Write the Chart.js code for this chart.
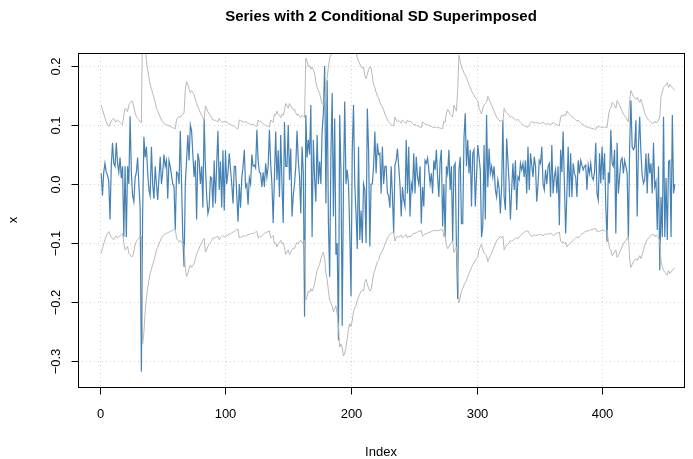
<!DOCTYPE html>
<html lang="en">
<head>
    <meta charset="UTF-8">
    <title>Series with 2 Conditional SD Superimposed</title>
    <script src="https://cdn.jsdelivr.net/npm/chart.js"></script>
    <style>
        body { margin: 0; background: #ffffff; }
        canvas { display: block; }
    </style>
</head>
<body>
    <canvas id="sdChart" width="693" height="459"></canvas>
    <script>
        // observed series x, index 1..458
        const seriesX = [
            0.018, -0.02, 0.02, 0.035, 0.02, 0.015, 0.005, -0.06, 0.03, 0.07,
            0.035, 0.03, 0.07, 0.035, 0.02, 0.045, 0.01, 0.03, -0.09, 0.03,
            -0.09, 0.03, 0.0, 0.115, 0.02, -0.02, -0.03, 0.01, 0.02, 0.045,
            0.0, -0.04, -0.318, -0.05, 0.08, 0.045, 0.063, 0.02, -0.01, -0.02,
            0.063, 0.0, -0.025, 0.03, 0.0, -0.027, 0.01, 0.046, 0.0, 0.02,
            0.05, 0.03, 0.04, -0.025, 0.04, 0.03, 0.015, 0.0, -0.005, -0.078,
            0.02, 0.018, 0.0, 0.09, 0.0, -0.09, -0.14, 0.0, 0.04, 0.083,
            0.04, 0.1, 0.09, 0.05, 0.012, 0.04, -0.06, 0.052, 0.04, 0.0,
            0.03, -0.04, 0.11, 0.03, -0.02, -0.05, -0.04, 0.012, 0.01, -0.04,
            0.04, -0.033, 0.035, 0.09, -0.01, 0.038, -0.04, 0.057, -0.045, 0.057,
            0.0, 0.02, 0.052, 0.025, 0.0, -0.033, 0.03, 0.03, -0.02, -0.064,
            0.0, -0.04, 0.01, 0.03, 0.058, -0.005, 0.0, -0.035, 0.01, 0.0,
            0.05, 0.03, 0.032, 0.027, 0.092, 0.04, 0.02, 0.018, -0.005, 0.02,
            -0.005, 0.035, 0.012, 0.03, 0.092, 0.035, 0.0, -0.066, 0.012, 0.089,
            0.007, 0.057, -0.022, 0.083, 0.0, -0.066, 0.105, 0.03, 0.03, 0.1,
            0.007, 0.06, -0.055, -0.02, 0.0, 0.03, 0.09, 0.04, 0.012, -0.05,
            0.063, 0.02, -0.225, 0.117, 0.045, 0.075, 0.05, 0.134, -0.09, 0.075,
            0.01, -0.03, 0.083, 0.0, 0.038, 0.0, 0.09, 0.12, 0.2, -0.033,
            0.176, -0.066, -0.157, 0.05, 0.154, -0.055, 0.111, -0.12, -0.1, -0.265,
            0.117, 0.02, -0.24, 0.0, 0.14, 0.0, 0.024, 0.0, -0.08, -0.19,
            0.057, 0.134, 0.0, -0.05, -0.11, 0.063, -0.095, -0.045, -0.1, 0.0,
            -0.01, -0.1, 0.128, 0.057, -0.106, 0.0, 0.0, 0.03, 0.089, 0.018,
            0.069, 0.05, 0.052, -0.016, 0.063, 0.0, 0.03, 0.03, -0.015, -0.02,
            -0.04, 0.03, -0.02, -0.084, 0.032, 0.04, 0.06, 0.03, 0.0, -0.055,
            -0.005, -0.027, -0.038, 0.075, -0.016, 0.063, -0.055, 0.001, -0.01, 0.052,
            -0.016, 0.046, 0.012, 0.0, 0.03, -0.067, -0.005, -0.038, 0.04, 0.035,
            0.044, 0.024, 0.0, 0.018, -0.016, 0.04, 0.024, 0.058, 0.012, -0.022,
            0.038, 0.058, -0.072, 0.0, -0.09, 0.03, 0.018, 0.058, -0.01, 0.03,
            -0.098, 0.03, 0.035, -0.106, -0.195, 0.024, 0.046, -0.067, -0.067, 0.077,
            0.12, 0.03, 0.075, 0.018, 0.058, -0.038, 0.052, 0.058, -0.038, 0.012,
            0.066, 0.046, 0.024, -0.09, -0.072, 0.066, -0.06, 0.117, -0.005, 0.06,
            0.018, 0.03, 0.012, 0.03, -0.01, -0.022, 0.007, -0.007, -0.05, -0.005,
            0.108, -0.022, -0.044, 0.077, 0.04, 0.001, -0.06, -0.01, 0.035, -0.01,
            0.04, -0.044, 0.012, 0.007, 0.035, 0.024, 0.035, 0.012, 0.04, -0.016,
            0.063, -0.01, 0.052, 0.032, 0.012, 0.046, 0.03, -0.03, 0.0, 0.04,
            0.035, 0.063, 0.0, -0.01, 0.024, 0.0, 0.03, 0.035, -0.022, 0.066,
            -0.016, 0.012, 0.024, -0.016, 0.03, -0.07, 0.058, 0.02, 0.089, 0.001,
            -0.084, -0.016, 0.063, -0.022, 0.052, -0.022, 0.035, 0.018, 0.012, -0.022,
            0.04, 0.018, 0.04, 0.032, 0.024, 0.03, 0.032, -0.01, 0.032, 0.018,
            0.035, 0.012, 0.007, 0.02, 0.07, -0.016, -0.027, 0.052, 0.001, 0.063,
            0.007, 0.052, -0.038, -0.098, 0.02, 0.001, 0.092, 0.035, 0.03, 0.058,
            -0.084, 0.07, -0.016, 0.012, 0.04, 0.044, 0.018, 0.04, 0.03, 0.018,
            -0.095, 0.063, 0.142, 0.063, 0.058, 0.063, 0.108, -0.055, 0.063, 0.114,
            0.052, 0.015, 0.001, 0.007, 0.052, -0.016, 0.052, 0.018, 0.035, -0.016,
            0.07, -0.005, 0.004, -0.078, 0.03, -0.146, -0.022, -0.09, 0.114, -0.09,
            0.01, -0.095, 0.038, 0.04, -0.09, 0.117, -0.016, 0.0
        ];

        // two conditional standard deviations (2 * sd), same index
        const twoSd = [
            0.1255, 0.118, 0.11, 0.103, 0.097, 0.092, 0.089, 0.094, 0.098, 0.101,
            0.103, 0.098, 0.097, 0.1, 0.098, 0.096, 0.094, 0.092, 0.108, 0.12,
            0.118, 0.114, 0.126, 0.128, 0.132, 0.131, 0.122, 0.112, 0.106, 0.102,
            0.1, 0.097, 0.096, 0.28, 0.26, 0.225, 0.2, 0.185, 0.172, 0.16,
            0.153, 0.145, 0.138, 0.13, 0.12, 0.116, 0.11, 0.105, 0.1, 0.097,
            0.094, 0.093, 0.092, 0.091, 0.09, 0.089, 0.088, 0.087, 0.086, 0.085,
            0.1, 0.104, 0.106, 0.104, 0.108, 0.11, 0.112, 0.152, 0.165, 0.16,
            0.152, 0.146, 0.15, 0.147, 0.143, 0.135, 0.128, 0.122, 0.118, 0.112,
            0.108, 0.104, 0.101, 0.124, 0.12, 0.114, 0.11, 0.108, 0.104, 0.1,
            0.1, 0.099, 0.098, 0.097, 0.103, 0.099, 0.097, 0.096, 0.098, 0.096,
            0.097, 0.094, 0.093, 0.093, 0.091, 0.09, 0.089, 0.087, 0.086, 0.085,
            0.1, 0.099, 0.098, 0.097, 0.096, 0.097, 0.096, 0.094, 0.094, 0.093,
            0.092, 0.093, 0.091, 0.09, 0.089, 0.1, 0.097, 0.098, 0.096, 0.094,
            0.092, 0.091, 0.09, 0.089, 0.088, 0.1, 0.098, 0.096, 0.11, 0.108,
            0.115, 0.11, 0.108, 0.104, 0.11, 0.108, 0.116, 0.128, 0.124, 0.12,
            0.128, 0.124, 0.12, 0.117, 0.118, 0.112, 0.108, 0.11, 0.106, 0.104,
            0.108, 0.106, 0.104, 0.205, 0.2, 0.19, 0.192, 0.186, 0.19, 0.185,
            0.178, 0.165, 0.155, 0.15, 0.145, 0.135, 0.128, 0.124, 0.135, 0.16,
            0.17, 0.19, 0.205, 0.21, 0.215, 0.225, 0.22, 0.215, 0.23, 0.25,
            0.285, 0.28, 0.285, 0.3, 0.295, 0.285, 0.27, 0.255, 0.245, 0.25,
            0.24, 0.225, 0.218, 0.215, 0.205, 0.2, 0.195, 0.19, 0.188, 0.19,
            0.175, 0.17, 0.178, 0.185, 0.19, 0.188, 0.175, 0.16, 0.155, 0.147,
            0.14, 0.138, 0.13, 0.125, 0.122, 0.117, 0.11, 0.106, 0.1, 0.097,
            0.094, 0.092, 0.091, 0.09, 0.105, 0.1, 0.097, 0.099, 0.097, 0.095,
            0.1, 0.098, 0.096, 0.094, 0.1, 0.097, 0.098, 0.097, 0.094, 0.092,
            0.092, 0.091, 0.09, 0.089, 0.088, 0.087, 0.097, 0.095, 0.093, 0.093,
            0.092, 0.091, 0.09, 0.089, 0.088, 0.087, 0.088, 0.087, 0.088, 0.087,
            0.086, 0.086, 0.085, 0.098, 0.096, 0.112, 0.118, 0.115, 0.11, 0.108,
            0.105, 0.125, 0.12, 0.115, 0.15, 0.21, 0.2, 0.19, 0.185, 0.18,
            0.176, 0.172, 0.165, 0.16, 0.155, 0.15, 0.145, 0.142, 0.138, 0.135,
            0.133, 0.12, 0.115, 0.11, 0.12, 0.125, 0.128, 0.13, 0.14, 0.135,
            0.13, 0.125, 0.12, 0.115, 0.11, 0.105, 0.102, 0.1, 0.097, 0.1,
            0.097, 0.12, 0.115, 0.112, 0.11, 0.108, 0.104, 0.106, 0.104, 0.102,
            0.1, 0.1, 0.101, 0.098, 0.096, 0.094, 0.092, 0.09, 0.089, 0.088,
            0.088, 0.092, 0.096, 0.097, 0.096, 0.095, 0.096, 0.095, 0.095, 0.094,
            0.094, 0.095, 0.096, 0.094, 0.093, 0.094, 0.093, 0.093, 0.092, 0.093,
            0.096, 0.094, 0.093, 0.092, 0.091, 0.09, 0.105, 0.108, 0.106, 0.11,
            0.107, 0.115, 0.112, 0.11, 0.108, 0.106, 0.104, 0.102, 0.1, 0.098,
            0.1, 0.097, 0.095, 0.093, 0.092, 0.09, 0.089, 0.088, 0.088, 0.087,
            0.086, 0.086, 0.085, 0.084, 0.084, 0.089, 0.088, 0.089, 0.088, 0.087,
            0.088, 0.087, 0.088, 0.087, 0.105, 0.118, 0.12, 0.13, 0.128, 0.124,
            0.12, 0.133, 0.13, 0.124, 0.12, 0.115, 0.11, 0.107, 0.104, 0.1,
            0.097, 0.135, 0.15, 0.145, 0.14, 0.137, 0.135, 0.138, 0.134, 0.13,
            0.135, 0.128, 0.12, 0.112, 0.107, 0.103, 0.1, 0.098, 0.096, 0.094,
            0.094, 0.098, 0.095, 0.096, 0.1, 0.105, 0.14, 0.148, 0.155, 0.158,
            0.16, 0.163, 0.155, 0.16, 0.158, 0.155, 0.152, 0.15
        ];

        const seriesMean = 0.0085;
        const xTicks = [0, 100, 200, 300, 400];
        const yTicks = [-0.3, -0.2, -0.1, 0.0, 0.1, 0.2];
        const yTickLabels = ['\u22120.3', '\u22120.2', '\u22120.1', '0.0', '0.1', '0.2'];

        const mainLine = seriesX.map((v, i) => ({ x: i + 1, y: v }));
        const upperLine = twoSd.map((v, i) => ({ x: i + 1, y: seriesMean + v }));
        const lowerLine = twoSd.map((v, i) => ({ x: i + 1, y: seriesMean - v }));

        const FONT = '"Liberation Sans", Arial, Helvetica, sans-serif';

        // R style frame: dotted grid, box, ticks, labels
        const rFrame = {
            id: 'rFrame',
            beforeDatasetsDraw(chart) {
                const { ctx, chartArea: a, scales: { x, y } } = chart;
                ctx.save();
                ctx.strokeStyle = '#d3d3d3';
                ctx.lineWidth = 1;
                ctx.setLineDash([1, 3]);
                xTicks.forEach(t => {
                    const px = Math.round(x.getPixelForValue(t)) + 0.5;
                    ctx.beginPath(); ctx.moveTo(px, a.top); ctx.lineTo(px, a.bottom); ctx.stroke();
                });
                yTicks.forEach(t => {
                    const py = Math.round(y.getPixelForValue(t)) + 0.5;
                    ctx.beginPath(); ctx.moveTo(a.left, py); ctx.lineTo(a.right, py); ctx.stroke();
                });
                ctx.restore();
            },
            afterDraw(chart) {
                const { ctx, chartArea: a, scales: { x, y } } = chart;
                ctx.save();
                ctx.strokeStyle = '#000';
                ctx.lineWidth = 1;
                ctx.setLineDash([]);
                ctx.strokeRect(Math.round(a.left) + 0.5, Math.round(a.top) + 0.5,
                    Math.round(a.right - a.left), Math.round(a.bottom - a.top));

                ctx.fillStyle = '#000';
                ctx.font = '13px ' + FONT;
                ctx.textAlign = 'center';
                ctx.textBaseline = 'middle';
                const bx = Math.round(a.bottom) + 0.5;
                ctx.beginPath();
                ctx.moveTo(Math.round(x.getPixelForValue(xTicks[0])) + 0.5, bx);
                ctx.lineTo(Math.round(x.getPixelForValue(xTicks[xTicks.length - 1])) + 0.5, bx);
                ctx.stroke();
                xTicks.forEach(t => {
                    const px = Math.round(x.getPixelForValue(t)) + 0.5;
                    ctx.beginPath(); ctx.moveTo(px, bx); ctx.lineTo(px, bx + 7); ctx.stroke();
                    ctx.fillText(String(t), px, a.bottom + 27);
                });

                const lx = Math.round(a.left) + 0.5;
                ctx.beginPath();
                ctx.moveTo(lx, Math.round(y.getPixelForValue(yTicks[0])) + 0.5);
                ctx.lineTo(lx, Math.round(y.getPixelForValue(yTicks[yTicks.length - 1])) + 0.5);
                ctx.stroke();
                yTicks.forEach((t, k) => {
                    const py = Math.round(y.getPixelForValue(t)) + 0.5;
                    ctx.beginPath(); ctx.moveTo(lx, py); ctx.lineTo(lx - 7, py); ctx.stroke();
                    ctx.save();
                    ctx.translate(a.left - 22, py);
                    ctx.rotate(-Math.PI / 2);
                    ctx.fillText(yTickLabels[k], 0, 0);
                    ctx.restore();
                });

                const cx = (a.left + a.right) / 2;
                ctx.fillText('Index', cx, 452);
                ctx.save();
                ctx.translate(13, (a.top + a.bottom) / 2);
                ctx.rotate(-Math.PI / 2);
                ctx.fillText('x', 0, 0);
                ctx.restore();

                ctx.font = 'bold 15px ' + FONT;
                ctx.fillText('Series with 2 Conditional SD Superimposed', cx, 17);
                ctx.restore();
            }
        };

        const ctx = document.getElementById('sdChart').getContext('2d');
        new Chart(ctx, {
            type: 'line',
            data: {
                datasets: [
                    {
                        label: 'x',
                        data: mainLine,
                        borderColor: '#4682b4',
                        borderWidth: 1.2,
                        pointRadius: 0,
                        tension: 0,
                        order: 2
                    },
                    {
                        label: 'mean + 2 sd',
                        data: upperLine,
                        borderColor: '#b8b8b8',
                        borderWidth: 1,
                        pointRadius: 0,
                        tension: 0,
                        order: 1
                    },
                    {
                        label: 'mean - 2 sd',
                        data: lowerLine,
                        borderColor: '#b8b8b8',
                        borderWidth: 1,
                        pointRadius: 0,
                        tension: 0,
                        order: 1
                    }
                ]
            },
            options: {
                responsive: false,
                animation: false,
                layout: { padding: { left: 78, right: 9, top: 53, bottom: 72 } },
                plugins: {
                    legend: { display: false },
                    tooltip: { enabled: false }
                },
                scales: {
                    x: { type: 'linear', min: -17.5, max: 465.3, display: false },
                    y: { type: 'linear', min: -0.344, max: 0.222, display: false }
                }
            },
            plugins: [rFrame]
        });
    </script>
</body>
</html>
